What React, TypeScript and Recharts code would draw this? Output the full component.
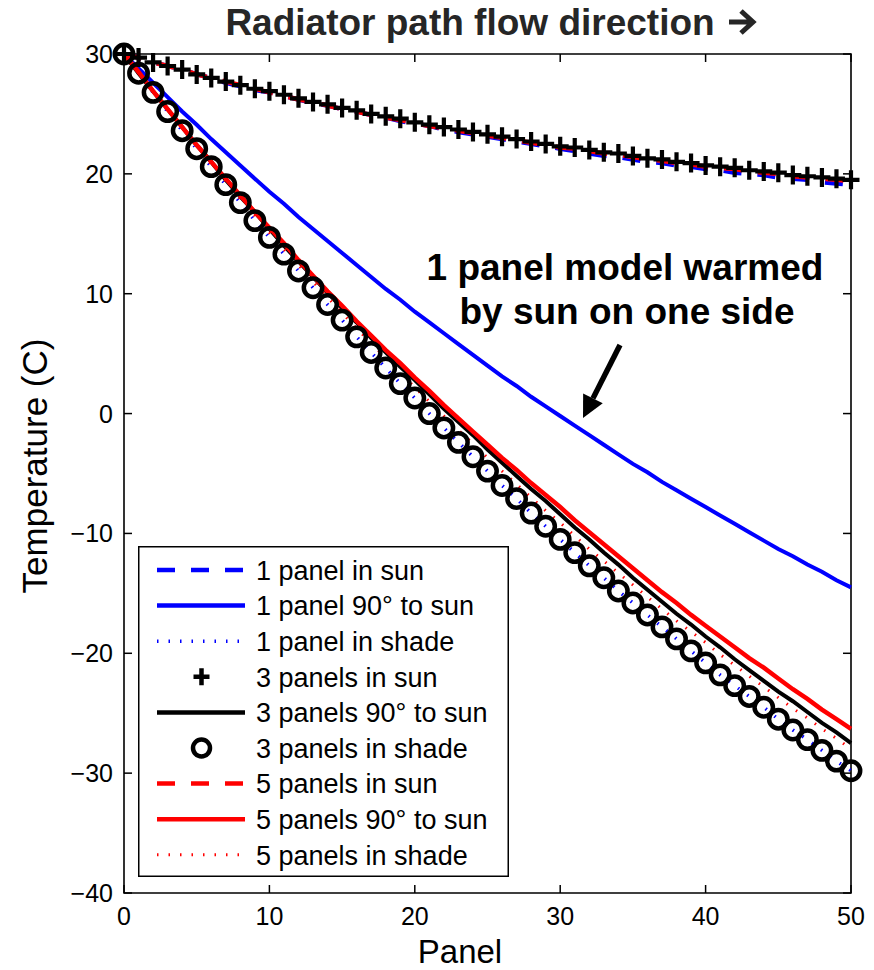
import { LineChart, Line, XAxis, YAxis, ReferenceArea, Legend } from "recharts";

const panels = [
  0, 1, 2, 3, 4, 5, 6, 7, 8, 9, 10, 11, 12, 13, 14, 15, 16, 17, 18, 19, 20, 21, 22, 23, 24, 25,
  26, 27, 28, 29, 30, 31, 32, 33, 34, 35, 36, 37, 38, 39, 40, 41, 42, 43, 44, 45, 46, 47, 48, 49, 50,
];

// 1 panel
const sun1 = [
  30.0, 29.7, 29.3, 29.0, 28.7, 28.3, 28.0, 27.6, 27.3, 27.0, 26.8, 26.5, 26.2, 25.9, 25.7, 25.4,
  25.2, 24.9, 24.7, 24.4, 24.2, 24.0, 23.7, 23.5, 23.3, 23.1, 22.9, 22.7, 22.5, 22.3, 22.1, 21.9,
  21.7, 21.5, 21.4, 21.2, 21.0, 20.9, 20.7, 20.6, 20.4, 20.3, 20.1, 20.0, 19.9, 19.7, 19.6, 19.5,
  19.3, 19.2, 19.1,
];
const ninety1 = [
  30.0, 28.8, 27.6, 26.4, 25.2, 24.1, 22.9, 21.8, 20.7, 19.6, 18.5, 17.5, 16.4, 15.4, 14.4, 13.4,
  12.4, 11.4, 10.4, 9.5, 8.5, 7.6, 6.7, 5.8, 4.9, 4.0, 3.1, 2.3, 1.4, 0.6, -0.2, -1.0, -1.8, -2.6,
  -3.4, -4.2, -4.9, -5.7, -6.4, -7.1, -7.8, -8.5, -9.2, -9.9, -10.6, -11.3, -11.9, -12.6, -13.2,
  -13.9, -14.5,
];
const shade1 = [
  30.0, 28.4, 26.8, 25.2, 23.6, 22.1, 20.6, 19.1, 17.6, 16.1, 14.7, 13.3, 11.9, 10.5, 9.1, 7.8,
  6.4, 5.1, 3.8, 2.5, 1.3, 0.0, -1.2, -2.4, -3.6, -4.8, -6.0, -7.1, -8.3, -9.4, -10.5, -11.6,
  -12.7, -13.7, -14.8, -15.8, -16.8, -17.8, -18.8, -19.8, -20.8, -21.8, -22.7, -23.6, -24.5,
  -25.5, -26.4, -27.2, -28.1, -29.0, -29.8,
];

// 3 panels
const sun3 = [
  30.0, 29.7, 29.3, 29.0, 28.7, 28.3, 28.0, 27.7, 27.4, 27.1, 26.9, 26.6, 26.3, 26.0, 25.8, 25.5,
  25.3, 25.0, 24.8, 24.6, 24.3, 24.1, 23.9, 23.7, 23.5, 23.3, 23.1, 22.9, 22.7, 22.5, 22.3, 22.2,
  22.0, 21.8, 21.7, 21.5, 21.3, 21.2, 21.0, 20.9, 20.7, 20.6, 20.5, 20.3, 20.2, 20.1, 19.9, 19.8,
  19.7, 19.6, 19.5,
];
const ninety3 = [
  30.0, 28.4, 26.9, 25.4, 23.9, 22.4, 21.0, 19.5, 18.1, 16.8, 15.4, 14.0, 12.7, 11.4, 10.1, 8.8,
  7.6, 6.3, 5.1, 3.9, 2.8, 1.6, 0.4, -0.7, -1.8, -3.0, -4.1, -5.2, -6.3, -7.3, -8.4, -9.5, -10.5,
  -11.6, -12.6, -13.7, -14.7, -15.7, -16.7, -17.6, -18.6, -19.5, -20.5, -21.4, -22.3, -23.2,
  -24.0, -24.9, -25.8, -26.6, -27.5,
];
const shade3 = [
  30.0, 28.4, 26.8, 25.2, 23.6, 22.1, 20.6, 19.1, 17.6, 16.1, 14.7, 13.3, 11.9, 10.5, 9.1, 7.8,
  6.4, 5.1, 3.8, 2.5, 1.3, 0.0, -1.2, -2.4, -3.6, -4.8, -6.0, -7.1, -8.3, -9.4, -10.5, -11.6,
  -12.7, -13.7, -14.8, -15.8, -16.8, -17.8, -18.8, -19.8, -20.8, -21.8, -22.7, -23.6, -24.5,
  -25.5, -26.4, -27.2, -28.1, -29.0, -29.8,
];

// 5 panels
const sun5 = [
  30.0, 29.7, 29.3, 29.0, 28.7, 28.3, 28.0, 27.7, 27.4, 27.1, 26.8, 26.5, 26.2, 26.0, 25.7, 25.4,
  25.2, 24.9, 24.7, 24.5, 24.2, 24.0, 23.8, 23.6, 23.4, 23.2, 23.0, 22.8, 22.6, 22.4, 22.2, 22.1,
  21.9, 21.7, 21.6, 21.4, 21.2, 21.1, 20.9, 20.8, 20.6, 20.5, 20.4, 20.2, 20.1, 20.0, 19.8, 19.7,
  19.6, 19.5, 19.4,
];
const ninety5 = [
  30.0, 28.5, 26.9, 25.4, 23.9, 22.4, 21.0, 19.6, 18.2, 16.8, 15.5, 14.2, 12.8, 11.5, 10.2, 9.0,
  7.7, 6.5, 5.3, 4.2, 3.0, 1.9, 0.7, -0.4, -1.5, -2.6, -3.7, -4.7, -5.8, -6.8, -7.8, -8.9, -9.9,
  -10.9, -11.9, -12.9, -13.9, -14.9, -15.8, -16.8, -17.7, -18.6, -19.5, -20.4, -21.2, -22.1,
  -23.0, -23.8, -24.7, -25.5, -26.3,
];
const shade5 = [
  30.0, 28.4, 26.9, 25.3, 23.8, 22.3, 20.8, 19.4, 17.9, 16.5, 15.1, 13.7, 12.4, 11.0, 9.7, 8.4,
  7.1, 5.9, 4.6, 3.4, 2.2, 1.0, -0.2, -1.4, -2.5, -3.7, -4.8, -5.9, -7.0, -8.1, -9.1, -10.2,
  -11.3, -12.3, -13.3, -14.3, -15.3, -16.3, -17.3, -18.2, -19.1, -20.1, -21.0, -21.9, -22.8,
  -23.7, -24.6, -25.4, -26.3, -27.1, -28.0,
];

const xTicks = [0, 10, 20, 30, 40, 50];
const yTicks = [30, 20, 10, 0, -10, -20, -30, -40];

const data = panels.map((panel, i) => ({
  panel,
  sun1: sun1[i],
  ninety1: ninety1[i],
  shade1: shade1[i],
  sun3: sun3[i],
  ninety3: ninety3[i],
  shade3: shade3[i],
  sun5: sun5[i],
  ninety5: ninety5[i],
  shade5: shade5[i],
}));

const W = 874;
const H = 970;
const Y_AXIS_W = 60;
const X_AXIS_H = 40;
const MARGIN = { top: 54, right: 23, left: 64, bottom: 37 };
const PLOT_L = MARGIN.left + Y_AXIS_W;
const PLOT_R = W - MARGIN.right;
const PLOT_T = MARGIN.top;
const PLOT_B = H - MARGIN.bottom - X_AXIS_H;
const FONT = "'Liberation Sans', Arial, Helvetica, sans-serif";

const BLUE = "#0000ff";
const RED = "#ff0000";
const DASH = "18 16";
const DOT = "1.5 10";

const fmt = (v: number) => (v < 0 ? `\u2212${Math.abs(v)}` : `${v}`);

const YTick = ({ x, y, payload }: any) => {
  const cy = payload.coordinate ?? y;
  return (
    <g>
      <line x1={PLOT_L} x2={PLOT_L + 8} y1={cy} y2={cy} stroke="#000" strokeWidth={1.5} />
      <line x1={PLOT_R - 8} x2={PLOT_R} y1={cy} y2={cy} stroke="#000" strokeWidth={1.5} />
      <text x={x} y={y} dy="0.36em" textAnchor="end" fontSize={25} fontFamily={FONT} fill="#000">
        {fmt(payload.value)}
      </text>
    </g>
  );
};

const XTick = ({ x, payload }: any) => {
  const cx = payload.coordinate ?? x;
  return (
    <g>
      <line x1={cx} x2={cx} y1={PLOT_B - 8} y2={PLOT_B} stroke="#000" strokeWidth={1.5} />
      <line x1={cx} x2={cx} y1={PLOT_T} y2={PLOT_T + 8} stroke="#000" strokeWidth={1.5} />
      <text x={x} y={PLOT_B + 32} textAnchor="middle" fontSize={25} fontFamily={FONT} fill="#000">
        {fmt(payload.value)}
      </text>
    </g>
  );
};

const plusDot = (props: any) => {
  const { cx, cy, index } = props;
  return (
    <path
      key={`plus-${index}`}
      d={`M${cx - 8.5},${cy}H${cx + 8.5}M${cx},${cy - 9.5}V${cy + 9.5}`}
      stroke="#000"
      strokeWidth={4.2}
      fill="none"
    />
  );
};

const circleDot = (props: any) => {
  const { cx, cy, index } = props;
  return <circle key={`circ-${index}`} cx={cx} cy={cy} r={9.2} stroke="#000" strokeWidth={4.5} fill="none" />;
};

const legendRows = [
  { name: "1 panel in sun", stroke: BLUE, dash: DASH, width: 4.5 },
  { name: "1 panel 90° to sun", stroke: BLUE, width: 4.5 },
  { name: "1 panel in shade", stroke: BLUE, dash: DOT, width: 3.5 },
  { name: "3 panels in sun", marker: "plus" },
  { name: "3 panels 90° to sun", stroke: "#000", width: 4.5 },
  { name: "3 panels in shade", marker: "circle" },
  { name: "5 panels in sun", stroke: RED, dash: DASH, width: 4.5 },
  { name: "5 panels 90° to sun", stroke: RED, width: 4.5 },
  { name: "5 panels in shade", stroke: RED, dash: DOT, width: 3 },
];

const LEG_W = 371;
const LEG_H = 331;

const renderLegend = () => (
  <svg width={LEG_W} height={LEG_H} style={{ display: "block" }}>
    <rect x={0.75} y={0.75} width={LEG_W - 1.5} height={LEG_H - 1.5} fill="#fff" stroke="#000" strokeWidth={1.5} />
    {legendRows.map((r, i) => {
      const cy = 24 + i * 35.6;
      let sample;
      if (r.marker === "plus") {
        sample = (
          <path d={`M55.5,${cy}H71.5M63.5,${cy - 8.5}V${cy + 8.5}`} stroke="#000" strokeWidth={4.5} fill="none" />
        );
      } else if (r.marker === "circle") {
        sample = <circle cx={63.5} cy={cy} r={8.5} stroke="#000" strokeWidth={4.5} fill="none" />;
      } else {
        sample = (
          <line x1={19} x2={107} y1={cy} y2={cy} stroke={r.stroke} strokeWidth={r.width} strokeDasharray={r.dash} />
        );
      }
      return (
        <g key={r.name}>
          {sample}
          <text x={118} y={cy} dy="0.36em" fontSize={27} fontFamily={FONT} fill="#000">
            {r.name}
          </text>
        </g>
      );
    })}
  </svg>
);

// annotation arrow
const ARROW_FROM = { x: 620, y: 345 };
const ARROW_TO = { x: 583, y: 418 };

function Arrow() {
  const dx = ARROW_TO.x - ARROW_FROM.x;
  const dy = ARROW_TO.y - ARROW_FROM.y;
  const len = Math.hypot(dx, dy);
  const ux = dx / len;
  const uy = dy / len;
  const bx = ARROW_TO.x - 22 * ux;
  const by = ARROW_TO.y - 22 * uy;
  const nx = -uy;
  const ny = ux;
  return (
    <g>
      <line x1={ARROW_FROM.x} y1={ARROW_FROM.y} x2={bx} y2={by} stroke="#000" strokeWidth={5.5} />
      <polygon
        points={`${ARROW_TO.x},${ARROW_TO.y} ${bx + 11 * nx},${by + 11 * ny} ${bx - 11 * nx},${by - 11 * ny}`}
        fill="#000"
      />
    </g>
  );
}

export default function App() {
  return (
    <div style={{ position: "absolute", left: 0, top: 0, width: W, height: H, background: "#fff" }}>
      <LineChart width={W} height={H} data={data} margin={MARGIN}>
        <XAxis
          dataKey="panel"
          type="number"
          domain={[0, 50]}
          ticks={xTicks}
          interval={0}
          height={X_AXIS_H}
          tickSize={0}
          tickMargin={10}
          tickLine={false}
          axisLine={false}
          tick={<XTick />}
        />
        <YAxis
          type="number"
          domain={[-40, 30]}
          ticks={yTicks}
          interval={0}
          width={Y_AXIS_W}
          tickSize={0}
          tickMargin={11}
          tickLine={false}
          axisLine={false}
          tick={<YTick />}
        />
        <ReferenceArea x1={0} x2={50} y1={-40} y2={30} fill="none" stroke="#000" strokeWidth={1.6} />
        <Line dataKey="sun1" stroke={BLUE} strokeWidth={4.5} strokeDasharray={DASH} dot={false} activeDot={false} isAnimationActive={false} />
        <Line dataKey="ninety1" stroke={BLUE} strokeWidth={4} dot={false} activeDot={false} isAnimationActive={false} />
        <Line dataKey="shade1" stroke={BLUE} strokeWidth={3.5} strokeDasharray={DOT} dot={false} activeDot={false} isAnimationActive={false} />
        <Line dataKey="sun3" stroke="none" dot={plusDot} activeDot={false} isAnimationActive={false} />
        <Line dataKey="ninety3" stroke="#000" strokeWidth={4} dot={false} activeDot={false} isAnimationActive={false} />
        <Line dataKey="shade3" stroke="none" dot={circleDot} activeDot={false} isAnimationActive={false} />
        <Line dataKey="sun5" stroke={RED} strokeWidth={4.5} strokeDasharray={DASH} dot={false} activeDot={false} isAnimationActive={false} />
        <Line dataKey="ninety5" stroke={RED} strokeWidth={4.5} dot={false} activeDot={false} isAnimationActive={false} />
        <Line dataKey="shade5" stroke={RED} strokeWidth={3} strokeDasharray={DOT} dot={false} activeDot={false} isAnimationActive={false} />
        <Legend
          layout="vertical"
          align="center"
          verticalAlign="middle"
          content={renderLegend}
          wrapperStyle={{ left: 138, top: 546, width: LEG_W, height: LEG_H }}
        />
      </LineChart>
      <svg
        width={W}
        height={H}
        style={{ position: "absolute", left: 0, top: 0, pointerEvents: "none" }}
      >
        <text x={470} y={35} textAnchor="middle" fontSize={37} fontWeight="bold" fontFamily={FONT} fill="#262626">
          Radiator path flow direction
        </text>
        <path d="M729,22H752M741,11L753,22L741,33" stroke="#262626" strokeWidth={5} fill="none" />
        <text
          transform="translate(47,466) rotate(-90)"
          textAnchor="middle"
          fontSize={35}
          fontFamily={FONT}
          fill="#000"
        >
          Temperature (C)
        </text>
        <text x={460} y={963} textAnchor="middle" fontSize={33} fontFamily={FONT} fill="#000">
          Panel
        </text>
        <text textAnchor="middle" fontSize={37} fontWeight="bold" fontFamily={FONT} fill="#000">
          <tspan x={625} y={280}>1 panel model warmed</tspan>
          <tspan x={627} y={324}>by sun on one side</tspan>
        </text>
        <Arrow />
      </svg>
    </div>
  );
}
